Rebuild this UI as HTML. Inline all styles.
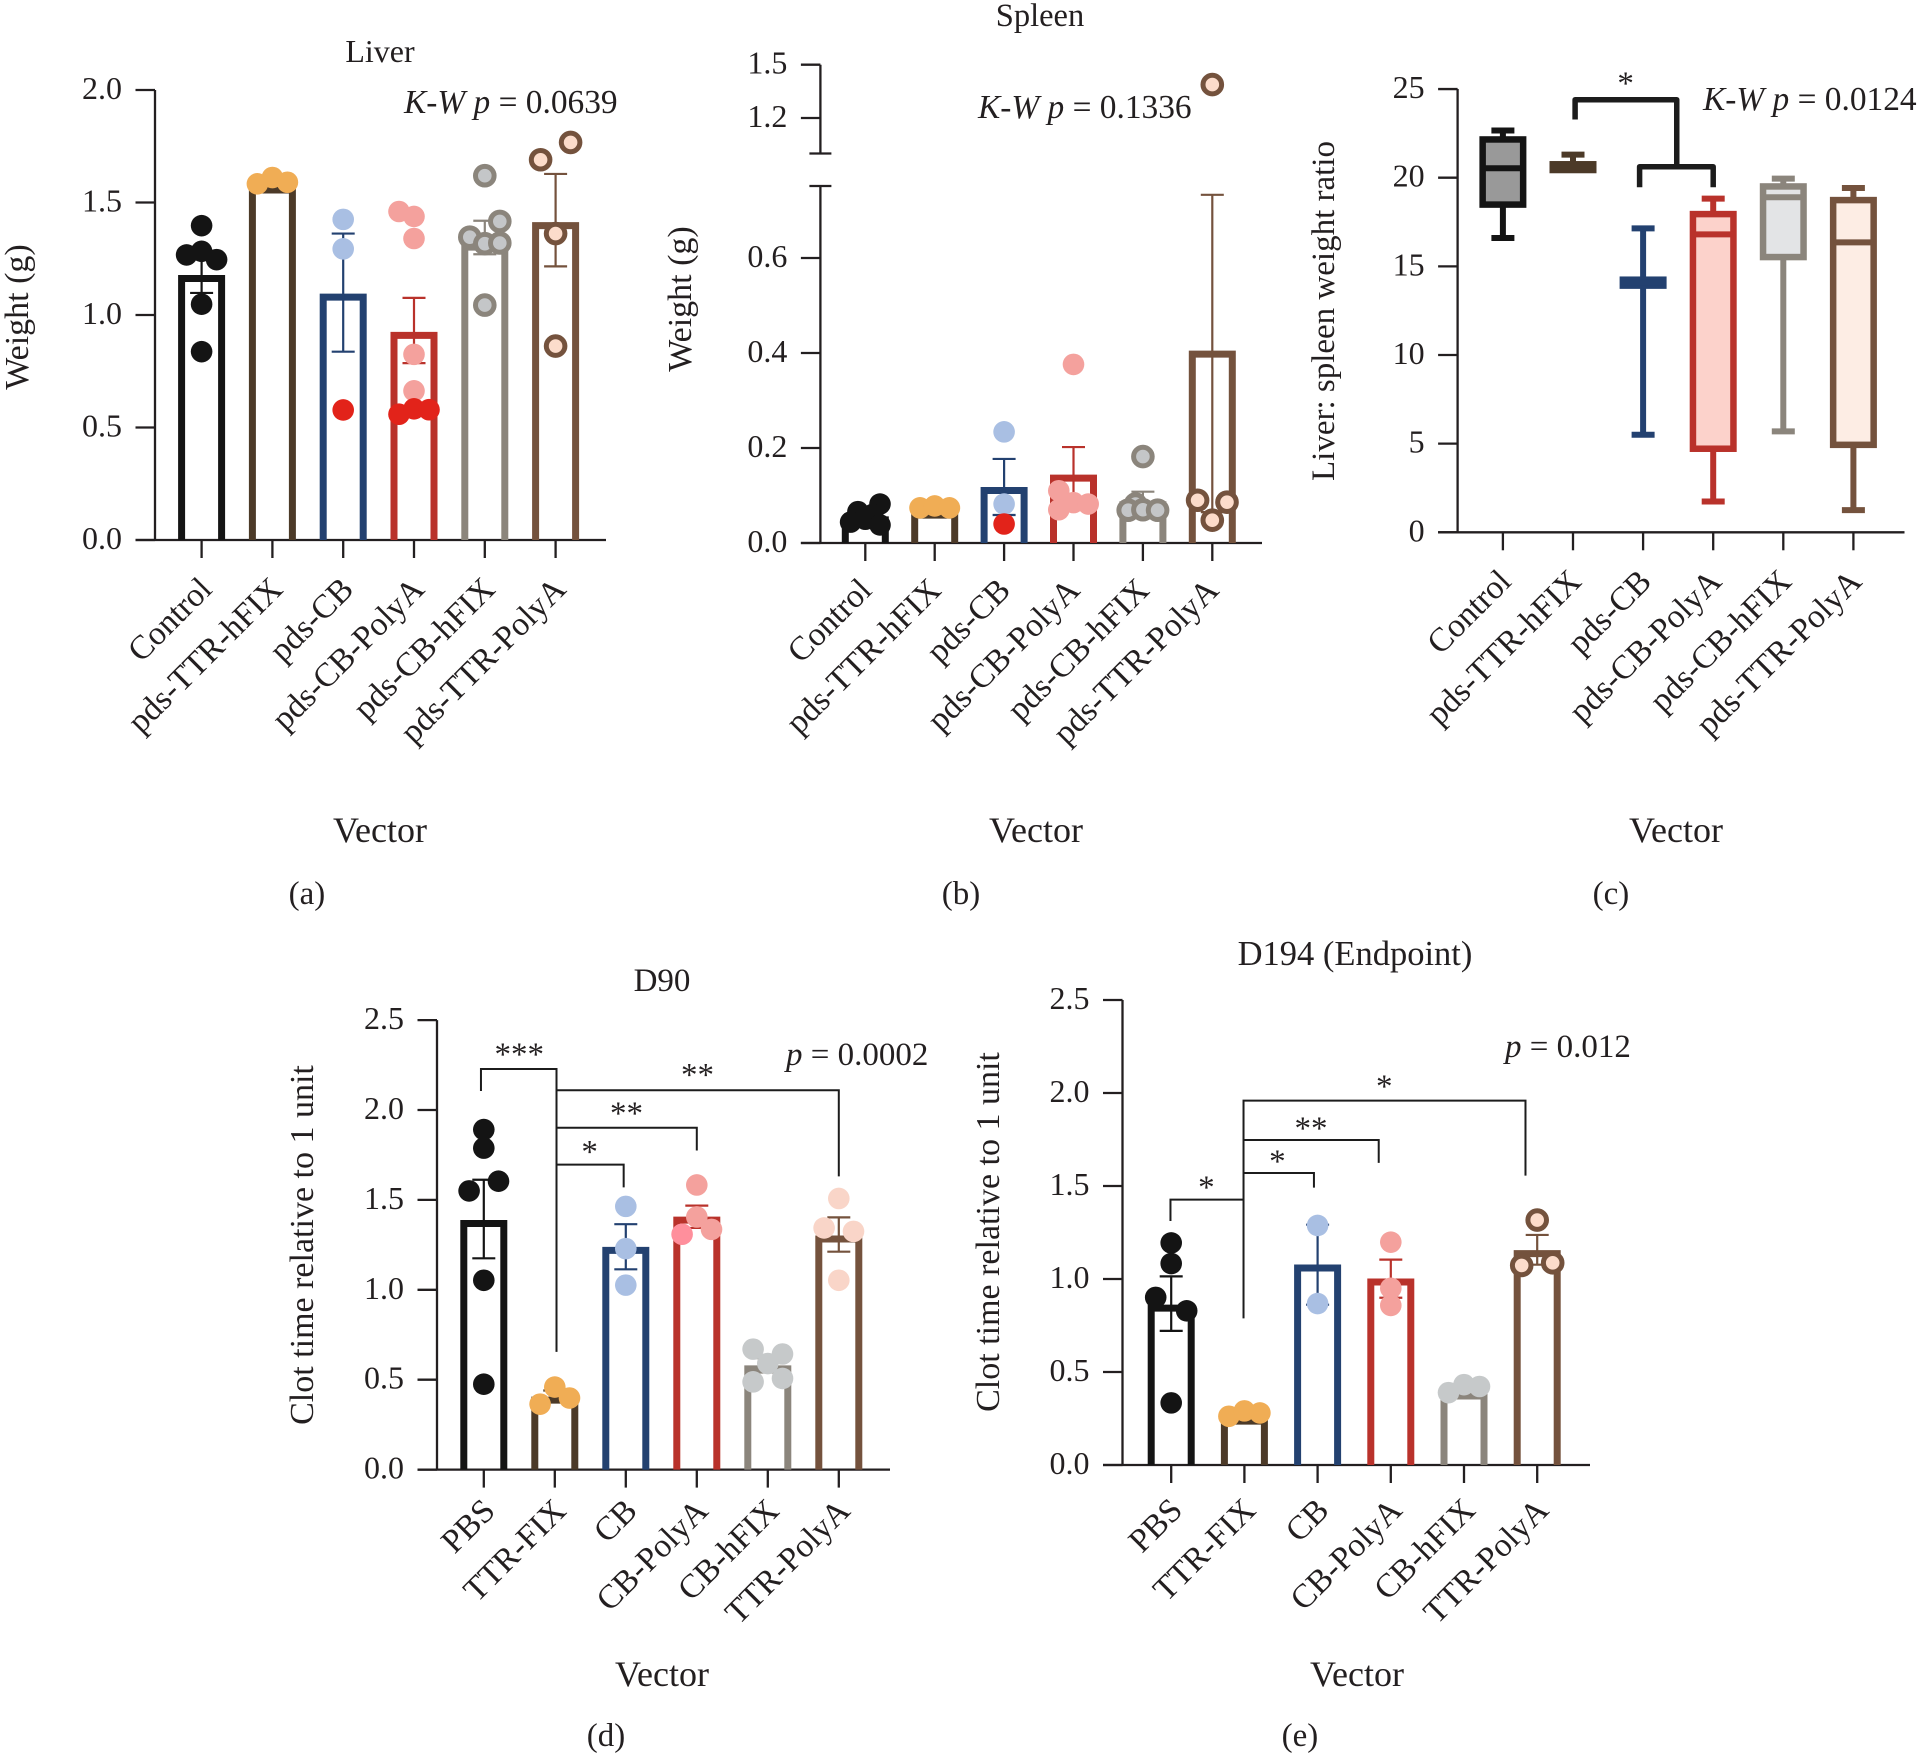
<!DOCTYPE html>
<html lang="en">
<head>
<meta charset="utf-8">
<title>Organ weights and clot time by vector</title>
<style>
html,body{margin:0;padding:0;background:#fff;}
svg{display:block;}
text{font-family:"Liberation Serif","Times New Roman",serif;fill:#231f20;font-size:33px;}
.it{font-style:italic;}
.tick{font-size:32px;}
.cat{font-size:33.5px;}
.vec{font-size:36px;}
.kw{font-size:33.4px;}
</style>
</head>
<body>
<svg id="figure" xmlns="http://www.w3.org/2000/svg" width="1920" height="1756" viewBox="0 0 1920 1756">
  <rect width="1920" height="1756" fill="#fff"/>

  <g id="panel-a">
    <text x="380" y="62" text-anchor="middle" style="font-size:32px">Liver</text>
    <text x="28" y="317" text-anchor="middle" transform="rotate(-90 28 317)" style="font-size:34px">Weight (g)</text>
    <text x="380" y="842" text-anchor="middle" class="vec">Vector</text>
    <text x="307" y="904" text-anchor="middle">(a)</text>
    <text x="404" y="113" class="kw"><tspan class="it">K-W p</tspan> = 0.0639</text>
  </g>

  <g id="panel-b">
    <text x="1040" y="26" text-anchor="middle" style="font-size:32.5px">Spleen</text>
    <text x="691" y="299" text-anchor="middle" transform="rotate(-90 691 299)" style="font-size:34px">Weight (g)</text>
    <text x="1036" y="842" text-anchor="middle" class="vec">Vector</text>
    <text x="961" y="904" text-anchor="middle">(b)</text>
    <text x="978" y="118" class="kw"><tspan class="it">K-W p</tspan> = 0.1336</text>
  </g>

  <g id="panel-c">
    <text x="1334" y="311" text-anchor="middle" transform="rotate(-90 1334 311)">Liver: spleen weight ratio</text>
    <text x="1676" y="842" text-anchor="middle" class="vec">Vector</text>
    <text x="1611" y="904" text-anchor="middle">(c)</text>
    <text x="1703" y="110" class="kw"><tspan class="it">K-W p</tspan> = 0.0124</text>
  </g>

  <g id="panel-d">
    <text x="662" y="991" text-anchor="middle">D90</text>
    <text x="313" y="1245" text-anchor="middle" transform="rotate(-90 313 1245)" style="font-size:34px">Clot time relative to 1 unit</text>
    <text x="662" y="1686" text-anchor="middle" class="vec">Vector</text>
    <text x="606" y="1746" text-anchor="middle">(d)</text>
    <text x="786" y="1065"><tspan class="it">p</tspan> = 0.0002</text>
  </g>

  <g id="panel-e">
    <text x="1355" y="965" text-anchor="middle" style="font-size:34.5px">D194 (Endpoint)</text>
    <text x="999" y="1232" text-anchor="middle" transform="rotate(-90 999 1232)" style="font-size:34px">Clot time relative to 1 unit</text>
    <text x="1357" y="1686" text-anchor="middle" class="vec">Vector</text>
    <text x="1300" y="1746" text-anchor="middle">(e)</text>
    <text x="1505" y="1057"><tspan class="it">p</tspan> = 0.012</text>
  </g>
</svg>

<script>
// ---------- categories and tick labels ----------
const vectorCategories = ['Control','pds-TTR-hFIX','pds-CB','pds-CB-PolyA','pds-CB-hFIX','pds-TTR-PolyA'];
const clotCategories = ['PBS','TTR-FIX','CB','CB-PolyA','CB-hFIX','TTR-PolyA'];
const liverTicks = [0, 0.5, 1, 1.5, 2];
const liverTickLabels = ['0.0','0.5','1.0','1.5','2.0'];
const spleenTicks = [0, 0.2, 0.4, 0.6, 1.2, 1.5];
const spleenTickLabels = ['0.0','0.2','0.4','0.6','1.2','1.5'];
const ratioTicks = [0, 5, 10, 15, 20, 25];
const ratioTickLabels = ['0','5','10','15','20','25'];
const clotTicks = [0, 0.5, 1, 1.5, 2, 2.5];
const clotTickLabels = ['0.0','0.5','1.0','1.5','2.0','2.5'];

// ---------- (a) liver ----------
const liverMeans = [1.178, 1.571, 1.095, 0.925, 1.317, 1.413];
const liverErrHigh = [1.258, 1.585, 1.362, 1.076, 1.419, 1.627];
const liverErrLow = [1.098, 1.557, 0.837, 0.786, 1.27, 1.216];
const liverPoints = [
  [1.397, 1.283, 1.267, 1.246, 1.048, 0.837],
  [1.583, 1.611, 1.59],
  [1.425, 1.294, 0.578],
  [1.46, 1.438, 1.34, 0.825, 0.663, 0.559, 0.583, 0.579],
  [1.619, 1.416, 1.346, 1.317, 1.32, 1.044],
  [1.767, 1.69, 1.362, 0.862]
];
const liverSlots = [
  [0, 0, -1, 1, 0, 0],
  [-1, 0, 1],
  [0, 0, 0],
  [-1, 0, 0, 0, 0, -1, 0, 1],
  [0, 1, -1, 0, 1, 0],
  [1, -1, 0, 0]
];
const liverFlagged = [[], [], [2], [5, 6, 7], [], []];

// ---------- (b) spleen ----------
const spleenMeans = [0.056, 0.066, 0.118, 0.144, 0.088, 0.405];
const spleenErrHigh = [0.066, 0.07, 0.177, 0.202, 0.108, 0.733];
const spleenErrLow = [0.046, 0.062, 0.059, 0.08, 0.064, 0.065];
const spleenPoints = [
  [0.082, 0.066, 0.06, 0.05, 0.044, 0.038],
  [0.074, 0.078, 0.074],
  [0.234, 0.082, 0.04],
  [0.376, 0.11, 0.085, 0.082, 0.07],
  [0.182, 0.082, 0.069, 0.07, 0.069],
  [1.388, 0.09, 0.086, 0.048]
];
const spleenSlots = [
  [1, -0.5, 0.5, 0, -1, 1],
  [-1, 0, 1],
  [0, 0, 0],
  [0, -1, 0, 1, -1],
  [0, -0.5, -1, 0, 1],
  [0, -1, 1, 0]
];
const spleenFlagged = [[], [], [2], [], [], []];

// ---------- (c) ratio box plot ----------
const ratioWhiskerHigh = [22.66, 21.3, 17.14, 18.82, 19.95, 19.42];
const ratioQ3 = [22.34, 20.94, 14.43, 18.13, 19.69, 18.92];
const ratioMedian = [20.53, 20.6, 14.1, 16.8, 18.9, 16.35];
const ratioQ1 = [18.3, 20.25, 13.73, 4.53, 15.34, 4.75];
const ratioWhiskerLow = [16.6, 20.45, 5.5, 1.74, 5.69, 1.25];
const ratioBrackets = [
  [[1.03, 23.28], [1.03, 24.4], [2.48, 24.4], [2.48, 20.62]],
  [[1.95, 19.46], [1.95, 20.62], [3, 20.62], [3, 19.46]]
];
const ratioStars = [['*', 1.75, 25.49]];

// ---------- (d) D90 ----------
const d90Means = [1.388, 0.406, 1.239, 1.407, 0.58, 1.302];
const d90ErrHigh = [1.612, 0.44, 1.365, 1.468, 0.62, 1.403];
const d90ErrLow = [1.175, 0.38, 1.114, 1.344, 0.54, 1.212];
const d90Points = [
  [1.891, 1.788, 1.604, 1.55, 1.053, 0.475],
  [0.459, 0.364, 0.398],
  [1.464, 1.229, 1.026],
  [1.583, 1.405, 1.309, 1.336],
  [0.67, 0.643, 0.59, 0.488, 0.507],
  [1.508, 1.344, 1.325, 1.053]
];
const d90Slots = [
  [0, 0, 1, -1, 0, 0],
  [0, -1, 1],
  [0, 0, 0],
  [0, 0, -1, 1],
  [-1, 1, 0, -1, 1],
  [0, -1, 1, 0]
];
const d90Flagged = [[], [], [], [2], [], []];
const d90Brackets = [
  [[-0.04, 2.106], [-0.04, 2.228], [1.024, 2.228], [1.024, 0.655]],
  [[1.024, 2.11], [5, 2.11], [5, 1.631]],
  [[1.024, 1.901], [3, 1.901], [3, 1.775]],
  [[1.024, 1.696], [1.97, 1.696], [1.97, 1.57]]
];
const d90Stars = [['***', 0.5, 2.326], ['**', 3.01, 2.211], ['**', 2.01, 1.997], ['*', 1.49, 1.784]];

// ---------- (e) D194 ----------
const d194Means = [0.862, 0.255, 1.078, 1.003, 0.39, 1.155];
const d194ErrHigh = [1.014, 0.27, 1.292, 1.104, 0.4, 1.237];
const d194ErrLow = [0.721, 0.24, 0.862, 0.899, 0.38, 1.077];
const d194Points = [
  [1.194, 1.083, 0.901, 0.829, 0.334],
  [0.262, 0.291, 0.28],
  [1.288, 0.868],
  [1.198, 0.95, 0.858],
  [0.389, 0.432, 0.422],
  [1.317, 1.073, 1.087]
];
const d194Slots = [
  [0, 0, -1, 1, 0],
  [-1, 0, 1],
  [0, 0],
  [0, 0, 0],
  [-1, 0, 1],
  [0, -1, 1]
];
const d194Flagged = [[], [], [], [], [], []];
const d194Brackets = [
  [[-0.01, 1.312], [-0.01, 1.427], [0.988, 1.427]],
  [[0.988, 0.788], [0.988, 1.959], [4.84, 1.959], [4.84, 1.556]],
  [[0.988, 1.747], [2.835, 1.747], [2.835, 1.624]],
  [[0.988, 1.57], [1.95, 1.57], [1.95, 1.491]]
];
const d194Stars = [['*', 0.48, 1.507], ['*', 1.45, 1.648], ['**', 1.91, 1.824], ['*', 2.91, 2.05]];

// ---------- shared palette ----------
const barColors = ['#141414', '#4c3a28', '#234170', '#b9322b', '#8b857c', '#74523d'];
const pointFills = ['#141414', '#f0ad55', '#a9bfe3', '#f4a19d', '#c4c6c8', '#fcdccb'];
const boxFills = ['#999999', '#4c3a28', '#234170', '#fcd2cb', '#e3e4e6', '#fdede4'];
const AXIS = '#231f20';
const NS = 'http://www.w3.org/2000/svg';

function node(parent, tag, attrs, content) {
  const el = document.createElementNS(NS, tag);
  for (const k in attrs) el.setAttribute(k, attrs[k]);
  if (content !== undefined) el.textContent = content;
  parent.appendChild(el);
  return el;
}
function segs(x1, y1, x2, y2) {
  return { x1: x1, y1: y1, x2: x2, y2: y2, stroke: AXIS, 'stroke-width': 2.3 };
}

function drawAxes(c) {
  const g = document.getElementById(c.id);
  if (c.yRanges) {
    c.yRanges.forEach(function (r) {
      const seg = node(g, 'line', segs(c.x0, r[0], c.x0, r[1]));
      
      
    });
    c.breakCaps.forEach(function (py) {
      const cap = node(g, 'line', segs(c.x0 - 11, py, c.x0 + 11, py));
      
      
    });
  } else {
    const yLine = node(g, 'line', segs(c.x0, c.y(c.ticks[c.ticks.length - 1]), c.x0, c.y(0)));
    
    
  }
  c.ticks.forEach(function (v, i) {
    const py = c.y(v);
    const t = node(g, 'line', segs(c.x0 - 19.5, py, c.x0, py));
    
    
    const lab = node(g, 'text', { x: c.x0 - 33, y: py + 9, 'text-anchor': 'end', class: 'tick' }, c.tickLabels[i]);
    
    
  });
  const xLine = node(g, 'line', segs(c.x0 - 19.5, c.y(0), c.xEnd, c.y(0)));
  
  
  c.cats.forEach(function (name, i) {
    const px = c.x(i);
    const base = c.y(0);
    const t = node(g, 'line', segs(px, base, px, base + 18));
    
    
    const lx = px + c.labelShift;
    const ly = base + c.labelDrop;
    const lab = node(g, 'text', { x: lx, y: ly, 'text-anchor': 'end', class: 'cat', transform: 'rotate(-45 ' + lx + ' ' + ly + ')' }, name);
    
    
  });
}

function drawBars(c) {
  const g = document.getElementById(c.id);
  const half = 20;
  c.means.forEach(function (m, i) {
    const px = c.x(i);
    const top = c.y(m) + 3.5;
    const base = c.y(0);
    const bar = node(g, 'path', {
      d: 'M' + (px - half) + ' ' + base + 'V' + top + 'H' + (px + half) + 'V' + base,
      fill: 'none', stroke: barColors[i], 'stroke-width': 7, 'stroke-linejoin': 'miter'
    });
    
    
  });
  c.means.forEach(function (m, i) {
    const px = c.x(i);
    const hi = c.y(c.errHigh[i]);
    const lo = c.y(c.errLow[i]);
    const stem = node(g, 'line', { x1: px, y1: hi, x2: px, y2: lo, stroke: barColors[i], 'stroke-width': 2.2 });
    
    
    [hi, lo].forEach(function (py) {
      const cap = node(g, 'line', { x1: px - 11.5, y1: py, x2: px + 11.5, y2: py, stroke: barColors[i], 'stroke-width': 2.2 });
      
      
    });
  });
  c.points.forEach(function (vals, i) {
    const ringed = c.rings[i];
    vals.forEach(function (v, j) {
      const flagged = c.flagged[i].indexOf(j) >= 0;
      const fill = flagged ? c.flagFill : (c.fills ? c.fills[i] : pointFills[i]);
      const attrs = { cx: c.x(i) + c.slots[i][j] * c.slotStep, cy: c.y(v), r: ringed ? 9.3 : 10.8, fill: fill };
      if (ringed) { attrs.stroke = barColors[i]; attrs['stroke-width'] = 5; }
      const dot = node(g, 'circle', attrs);
      
      
    });
  });
}

function drawBrackets(c, brackets, stars, width) {
  const g = document.getElementById(c.id);
  brackets.forEach(function (b) {
    const pts = b.map(function (p) { return c.xf(p[0]) + ',' + c.y(p[1]); }).join(' ');
    const line = node(g, 'polyline', { points: pts, fill: 'none', stroke: '#1c1c1c', 'stroke-width': width, 'stroke-linejoin': width > 3 ? 'round' : 'miter' });
    
    
  });
  stars.forEach(function (s) {
    const label = node(g, 'text', { x: c.xf(s[1]), y: c.y(s[2]) + 13.5, 'text-anchor': 'middle' }, s[0]);
    
    
  });
}

function linear(y0, pxPerUnit) { return function (v) { return y0 - v * pxPerUnit; }; }
function catScale(first, step) { return function (i) { return first + i * step; }; }

// (a)
const liverX = catScale(201.6, 70.8);
drawAxes({ id: 'panel-a', x0: 155, xEnd: 606, y: linear(540, 225), x: liverX, ticks: liverTicks, tickLabels: liverTickLabels, cats: vectorCategories, labelShift: 12, labelDrop: 51 });
drawBars({ id: 'panel-a', x: liverX, y: linear(540, 225), cats: vectorCategories, means: liverMeans, errHigh: liverErrHigh, errLow: liverErrLow, points: liverPoints, slots: liverSlots, slotStep: 15, flagged: liverFlagged, flagFill: '#e2231a', rings: [0, 0, 0, 0, 1, 1] });

// (b) broken axis
function spleenY(v) { return v >= 1 ? 153.5 - (v - 1) * 177.6 : 543 - v * 475; }
const spleenX = catScale(865.3, 69.4);
drawAxes({ id: 'panel-b', x0: 820.4, xEnd: 1262, y: spleenY, x: spleenX, ticks: spleenTicks, tickLabels: spleenTickLabels, cats: vectorCategories, labelShift: 8, labelDrop: 49, yRanges: [[64.7, 153.5], [186, 543]], breakCaps: [153.5, 186] });
drawBars({ id: 'panel-b', x: spleenX, y: spleenY, cats: vectorCategories, means: spleenMeans, errHigh: spleenErrHigh, errLow: spleenErrLow, points: spleenPoints, slots: spleenSlots, slotStep: 14.7, flagged: spleenFlagged, flagFill: '#e2231a', rings: [0, 0, 0, 0, 1, 1] });

// (c) box plot
const ratioX = catScale(1502.9, 70.1);
const ratioY = linear(532.3, 17.73);
drawAxes({ id: 'panel-c', x0: 1457.6, xEnd: 1904.5, y: ratioY, x: ratioX, ticks: ratioTicks, tickLabels: ratioTickLabels, cats: vectorCategories, labelShift: 10, labelDrop: 51 });
(function () {
  const g = document.getElementById('panel-c');
  const sw = 6.5;
  vectorCategories.forEach(function (name, i) {
    const px = ratioX(i);
    const col = barColors[i];
    const wHi = ratioY(ratioWhiskerHigh[i]);
    const wLo = ratioY(ratioWhiskerLow[i]);
    const whisker = node(g, 'line', { x1: px, y1: wHi, x2: px, y2: wLo, stroke: col, 'stroke-width': 6 });
    
    
    const capHi = node(g, 'line', { x1: px - 11.5, y1: wHi, x2: px + 11.5, y2: wHi, stroke: col, 'stroke-width': 6 });
    
    
    const capLo = node(g, 'line', { x1: px - 11.5, y1: wLo, x2: px + 11.5, y2: wLo, stroke: col, 'stroke-width': 6 });
    
    
    const top = ratioY(ratioQ3[i]);
    const bottom = ratioY(ratioQ1[i]);
    const box = node(g, 'rect', { x: px - 20.25, y: top + sw / 2, width: 40.5, height: Math.max(0, bottom - top - sw), fill: boxFills[i], stroke: col, 'stroke-width': sw });
    
    
    const medY = ratioY(ratioMedian[i]);
    const med = node(g, 'line', { x1: px - 20, y1: medY, x2: px + 20, y2: medY, stroke: col, 'stroke-width': 6 });
    
    
  });
})();
drawBrackets({ id: 'panel-c', xf: ratioX, y: ratioY }, ratioBrackets, ratioStars, 5.5);

// (d)
const d90X = catScale(483.8, 71);
const d90Y = linear(1469.6, 179.8);
drawAxes({ id: 'panel-d', x0: 437, xEnd: 890, y: d90Y, x: d90X, ticks: clotTicks, tickLabels: clotTickLabels, cats: clotCategories, labelShift: 13, labelDrop: 43 });
drawBars({ id: 'panel-d', x: d90X, y: d90Y, cats: clotCategories, means: d90Means, errHigh: d90ErrHigh, errLow: d90ErrLow, points: d90Points, slots: d90Slots, slotStep: 14.7, flagged: d90Flagged, flagFill: '#ff8f9c', rings: [0, 0, 0, 0, 0, 0], fills: ['#141414', '#f0ad55', '#a9bfe3', '#f4a19d', '#c6c9ca', '#f9d5c8'] });
drawBrackets({ id: 'panel-d', xf: d90X, y: d90Y }, d90Brackets, d90Stars, 2);

// (e)
const d194X = catScale(1171.2, 73.2);
const d194Y = linear(1465, 186);
drawAxes({ id: 'panel-e', x0: 1122.5, xEnd: 1590, y: d194Y, x: d194X, ticks: clotTicks, tickLabels: clotTickLabels, cats: clotCategories, labelShift: 13, labelDrop: 47 });
drawBars({ id: 'panel-e', x: d194X, y: d194Y, cats: clotCategories, means: d194Means, errHigh: d194ErrHigh, errLow: d194ErrLow, points: d194Points, slots: d194Slots, slotStep: 15.5, flagged: d194Flagged, flagFill: '#e2231a', rings: [0, 0, 0, 0, 0, 1], fills: ['#141414', '#f0ad55', '#a9bfe3', '#f4a19d', '#c6c9ca', '#fcdccb'] });
drawBrackets({ id: 'panel-e', xf: d194X, y: d194Y }, d194Brackets, d194Stars, 2);
</script>
</body>
</html>
